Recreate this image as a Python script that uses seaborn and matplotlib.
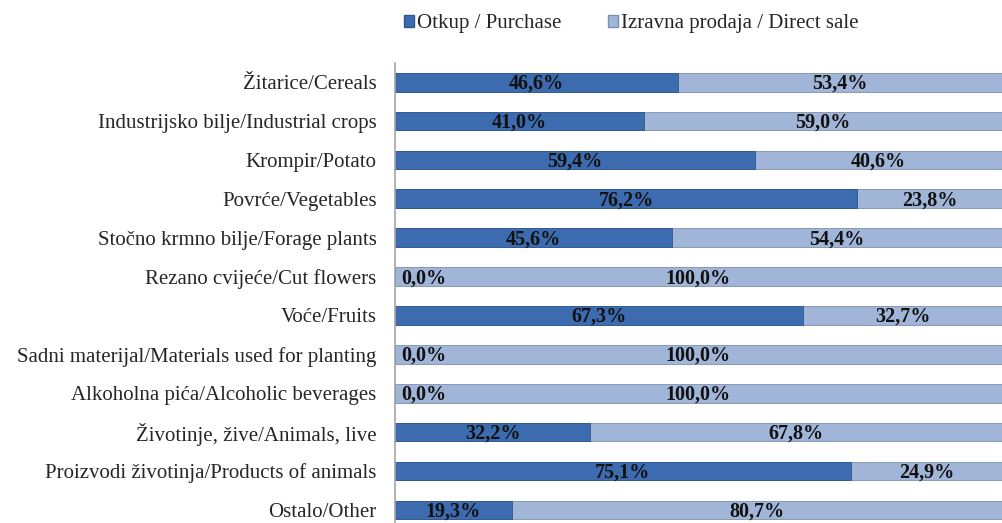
import pandas as pd
import seaborn as sns
import matplotlib.pyplot as plt
from matplotlib.patches import Patch

categories = [
    "Žitarice/Cereals",
    "Industrijsko bilje/Industrial crops",
    "Krompir/Potato",
    "Povrće/Vegetables",
    "Stočno krmno bilje/Forage plants",
    "Rezano cvijeće/Cut flowers",
    "Voće/Fruits",
    "Sadni materijal/Materials used for planting",
    "Alkoholna pića/Alcoholic beverages",
    "Životinje, žive/Animals, live",
    "Proizvodi životinja/Products of animals",
    "Ostalo/Other",
]
purchase = [46.6, 41.0, 59.4, 76.2, 45.6, 0.0, 67.3, 0.0, 0.0, 32.2, 75.1, 19.3]
direct_sale = [53.4, 59.0, 40.6, 23.8, 54.4, 100.0, 32.7, 100.0, 100.0, 67.8, 24.9, 80.7]

df = pd.DataFrame({"cat": categories, "purchase": purchase, "direct": direct_sale})
df["total"] = df["purchase"] + df["direct"]

c_purchase = "#3C6BAF"
c_direct = "#A0B5D8"

sns.set_style("white")
plt.rcParams["font.family"] = ["Liberation Serif", "DejaVu Serif"]

fig = plt.figure(figsize=(10.02, 5.23), dpi=100)
ax = fig.add_axes([0.394, -0.012, 0.606, 0.892])

sns.barplot(data=df, x="total", y="cat", color=c_direct, width=0.48,
            saturation=1, ax=ax, edgecolor="#7E8FAE", linewidth=0.6)
sns.barplot(data=df, x="purchase", y="cat", color=c_purchase, width=0.48,
            saturation=1, ax=ax, edgecolor="#2F558C", linewidth=0.6)

def fmt(v):
    return f"{v:.1f}".replace(".", ",") + "%"

for i, (p, d) in enumerate(zip(purchase, direct_sale)):
    px = p / 2 if p > 0 else 4.8
    ax.text(px, i + 0.04, fmt(p), ha="center", va="center", fontsize=14.5,
            fontweight="bold", color="#111111")
    ax.text(p + d / 2, i + 0.04, fmt(d), ha="center", va="center", fontsize=14.5,
            fontweight="bold", color="#111111")

ax.set_xlim(0, 100)
ax.set_ylim(11.5, -0.5)
ax.set_xlabel("")
ax.set_ylabel("")
ax.set_xticks([])
ax.tick_params(axis="y", length=0, pad=13, labelsize=15)
for s in ["top", "right", "bottom"]:
    ax.spines[s].set_visible(False)
ax.spines["left"].set_color("#A6A6A6")
ax.spines["left"].set_linewidth(1.2)

handles = [Patch(facecolor=c_purchase, edgecolor="#2F558C", label="Otkup / Purchase"),
           Patch(facecolor=c_direct, edgecolor="#7E8FAE", label="Izravna prodaja / Direct sale")]
fig.legend(handles=handles, loc="center", bbox_to_anchor=(0.63, 0.955), ncol=2,
           frameon=False, fontsize=15, handlelength=0.5, handleheight=0.5,
           handletextpad=0.15, columnspacing=2.2)

fig.savefig("out.png", dpi=100)
